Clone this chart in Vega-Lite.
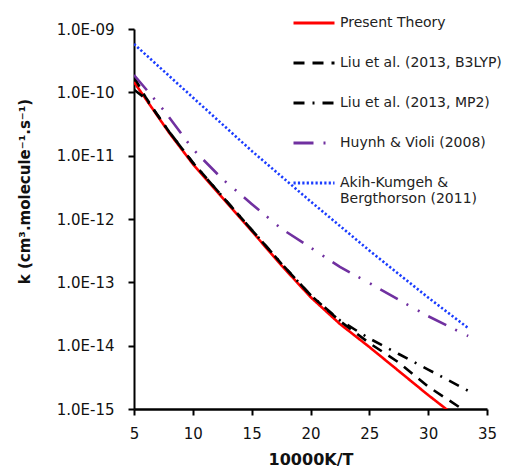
{
  "$schema": "https://vega.github.io/schema/vega-lite/v6.json",
  "width": 353,
  "height": 380,
  "autosize": "none",
  "padding": {"left": 134, "top": 29, "right": 22, "bottom": 64},
  "background": "white",
  "config": {
    "view": {"stroke": null},
    "font": "DejaVu Sans",
    "axis": {"grid": false}
  },
  "data": {
    "values": [
      {"series": "Present Theory", "x": 5, "k": 1.456e-10},
      {"series": "Present Theory", "x": 6, "k": 7.85e-11},
      {"series": "Present Theory", "x": 7, "k": 4.23e-11},
      {"series": "Present Theory", "x": 8, "k": 2.28e-11},
      {"series": "Present Theory", "x": 10, "k": 7.38e-12},
      {"series": "Present Theory", "x": 12.5, "k": 2.18e-12},
      {"series": "Present Theory", "x": 15, "k": 6.46e-13},
      {"series": "Present Theory", "x": 17.5, "k": 1.875e-13},
      {"series": "Present Theory", "x": 20, "k": 5.86e-14},
      {"series": "Present Theory", "x": 22.5, "k": 2.2e-14},
      {"series": "Present Theory", "x": 25, "k": 9.53e-15},
      {"series": "Present Theory", "x": 27.5, "k": 3.98e-15},
      {"series": "Present Theory", "x": 30, "k": 1.66e-15},
      {"series": "Present Theory", "x": 33.4, "k": 5.38e-16},

      {"series": "Liu et al. (2013, B3LYP)", "x": 5, "k": 1.74e-10},
      {"series": "Liu et al. (2013, B3LYP)", "x": 6, "k": 8.32e-11},
      {"series": "Liu et al. (2013, B3LYP)", "x": 7, "k": 4.37e-11},
      {"series": "Liu et al. (2013, B3LYP)", "x": 8, "k": 2.37e-11},
      {"series": "Liu et al. (2013, B3LYP)", "x": 10, "k": 7.76e-12},
      {"series": "Liu et al. (2013, B3LYP)", "x": 12.5, "k": 2.29e-12},
      {"series": "Liu et al. (2013, B3LYP)", "x": 15, "k": 6.76e-13},
      {"series": "Liu et al. (2013, B3LYP)", "x": 17.5, "k": 2.0e-13},
      {"series": "Liu et al. (2013, B3LYP)", "x": 20, "k": 6.31e-14},
      {"series": "Liu et al. (2013, B3LYP)", "x": 22.5, "k": 2.45e-14},
      {"series": "Liu et al. (2013, B3LYP)", "x": 25, "k": 1.1e-14},
      {"series": "Liu et al. (2013, B3LYP)", "x": 27.5, "k": 5.42e-15},
      {"series": "Liu et al. (2013, B3LYP)", "x": 30, "k": 2.26e-15},
      {"series": "Liu et al. (2013, B3LYP)", "x": 33.4, "k": 8.65e-16},

      {"series": "Liu et al. (2013, MP2)", "x": 5, "k": 1.1e-10},
      {"series": "Liu et al. (2013, MP2)", "x": 6, "k": 7.94e-11},
      {"series": "Liu et al. (2013, MP2)", "x": 7, "k": 4.37e-11},
      {"series": "Liu et al. (2013, MP2)", "x": 8, "k": 2.37e-11},
      {"series": "Liu et al. (2013, MP2)", "x": 10, "k": 7.76e-12},
      {"series": "Liu et al. (2013, MP2)", "x": 12.5, "k": 2.29e-12},
      {"series": "Liu et al. (2013, MP2)", "x": 15, "k": 6.76e-13},
      {"series": "Liu et al. (2013, MP2)", "x": 17.5, "k": 2.0e-13},
      {"series": "Liu et al. (2013, MP2)", "x": 20, "k": 6.31e-14},
      {"series": "Liu et al. (2013, MP2)", "x": 22.5, "k": 2.51e-14},
      {"series": "Liu et al. (2013, MP2)", "x": 25, "k": 1.3e-14},
      {"series": "Liu et al. (2013, MP2)", "x": 27.5, "k": 7.38e-15},
      {"series": "Liu et al. (2013, MP2)", "x": 30, "k": 4.19e-15},
      {"series": "Liu et al. (2013, MP2)", "x": 33.4, "k": 1.94e-15},

      {"series": "Huynh & Violi (2008)", "x": 5, "k": 1.88e-10},
      {"series": "Huynh & Violi (2008)", "x": 7.5, "k": 5.3e-11},
      {"series": "Huynh & Violi (2008)", "x": 10, "k": 1.27e-11},
      {"series": "Huynh & Violi (2008)", "x": 12.5, "k": 4.3e-12},
      {"series": "Huynh & Violi (2008)", "x": 15, "k": 1.73e-12},
      {"series": "Huynh & Violi (2008)", "x": 17.5, "k": 7.1e-13},
      {"series": "Huynh & Violi (2008)", "x": 20, "k": 3.55e-13},
      {"series": "Huynh & Violi (2008)", "x": 22.5, "k": 1.75e-13},
      {"series": "Huynh & Violi (2008)", "x": 25, "k": 9.75e-14},
      {"series": "Huynh & Violi (2008)", "x": 27.5, "k": 5.3e-14},
      {"series": "Huynh & Violi (2008)", "x": 30, "k": 2.92e-14},
      {"series": "Huynh & Violi (2008)", "x": 33.4, "k": 1.42e-14},

      {"series": "Akih-Kumgeh & Bergthorson (2011)", "x": 5, "k": 5.8e-10},
      {"series": "Akih-Kumgeh & Bergthorson (2011)", "x": 10, "k": 8.3e-11},
      {"series": "Akih-Kumgeh & Bergthorson (2011)", "x": 15, "k": 1.19e-11},
      {"series": "Akih-Kumgeh & Bergthorson (2011)", "x": 20, "k": 1.9e-12},
      {"series": "Akih-Kumgeh & Bergthorson (2011)", "x": 25, "k": 3.18e-13},
      {"series": "Akih-Kumgeh & Bergthorson (2011)", "x": 30, "k": 5.75e-14},
      {"series": "Akih-Kumgeh & Bergthorson (2011)", "x": 33.4, "k": 1.9e-14}
    ]
  },
  "mark": {"type": "line", "clip": true, "strokeWidth": 2.6, "strokeCap": "butt"},
  "encoding": {
    "x": {
      "field": "x",
      "type": "quantitative",
      "scale": {"domain": [5, 35], "nice": false, "zero": false},
      "axis": {
        "title": "10000K/T",
        "values": [5, 10, 15, 20, 25, 30, 35],
        "domainColor": "black",
        "domainWidth": 2.5,
        "tickColor": "black",
        "tickWidth": 2,
        "tickSize": 6,
        "labelFontSize": 15,
        "labelColor": "#111",
        "labelPadding": 11,
        "labelFlush": false,
        "titleFontSize": 16,
        "titleFontWeight": "bold",
        "titleColor": "#111",
        "titlePadding": 10
      }
    },
    "y": {
      "field": "k",
      "type": "quantitative",
      "scale": {"type": "log", "domain": [1e-15, 1e-9], "nice": false},
      "axis": {
        "title": "k (cm³.molecule⁻¹.s⁻¹)",
        "values": [1e-15, 1e-14, 1e-13, 1e-12, 1e-11, 1e-10, 1e-9],
        "labelExpr": "'1.0E-' + (round(-log(datum.value)/LN10) < 10 ? '0' : '') + round(-log(datum.value)/LN10)",
        "domainColor": "black",
        "domainWidth": 2,
        "tickColor": "black",
        "tickWidth": 2,
        "tickSize": 6,
        "labelFontSize": 15,
        "labelColor": "#111",
        "labelPadding": 14,
        "labelFlush": false,
        "titleFontSize": 15,
        "titleFontWeight": "bold",
        "titleColor": "#111",
        "titleAngle": -90,
        "titleX": -110,
        "titleY": 162,
        "titleAlign": "center",
        "titleBaseline": "middle"
      }
    },
    "color": {
      "field": "series",
      "type": "nominal",
      "scale": {
        "domain": ["Present Theory", "Liu et al. (2013, B3LYP)", "Liu et al. (2013, MP2)", "Huynh & Violi (2008)", "Akih-Kumgeh & Bergthorson (2011)"],
        "range": ["#FF0000", "#000000", "#000000", "#7030A0", "#1A3CFF"]
      },
      "legend": {
        "title": null,
        "orient": "none",
        "legendX": 158,
        "legendY": -28,
        "symbolType": "stroke",
        "symbolSize": 1681,
        "symbolStrokeWidth": 3,
        "labelFontSize": 14,
        "labelColor": "#222",
        "labelOffset": 4,
        "rowPadding": 11,
        "labelLimit": 300,
        "labelExpr": "datum.label == 'Akih-Kumgeh & Bergthorson (2011)' ? ['Akih-Kumgeh &', 'Bergthorson (2011)'] : datum.label"
      }
    },
    "strokeDash": {
      "field": "series",
      "type": "nominal",
      "scale": {
        "domain": ["Present Theory", "Liu et al. (2013, B3LYP)", "Liu et al. (2013, MP2)", "Huynh & Violi (2008)", "Akih-Kumgeh & Bergthorson (2011)"],
        "range": [[1, 0], [11, 8], [11, 8, 2, 8], [20, 10, 2, 11, 2, 10], [2.2, 2.2]]
      },
      "legend": {
        "title": null,
        "orient": "none",
        "legendX": 158,
        "legendY": -28,
        "symbolType": "stroke",
        "symbolSize": 1681,
        "symbolStrokeWidth": 3,
        "labelFontSize": 14,
        "labelColor": "#222",
        "labelOffset": 4,
        "rowPadding": 11,
        "labelLimit": 300,
        "labelExpr": "datum.label == 'Akih-Kumgeh & Bergthorson (2011)' ? ['Akih-Kumgeh &', 'Bergthorson (2011)'] : datum.label"
      }
    }
  }
}
